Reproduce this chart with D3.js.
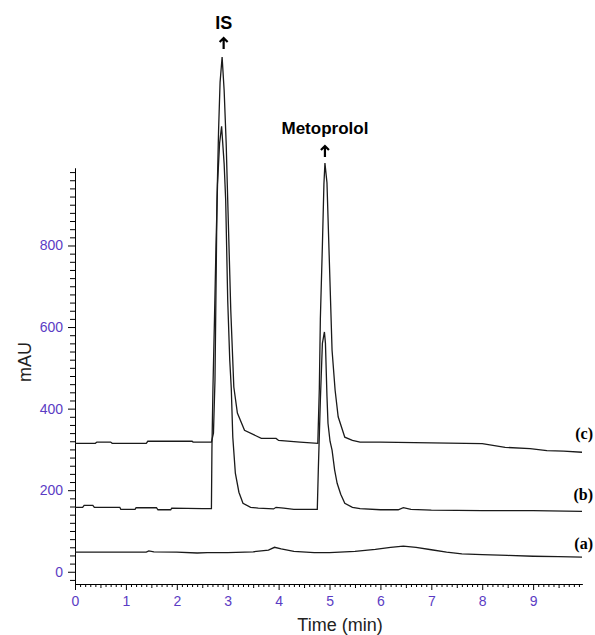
<!DOCTYPE html>
<html lang="en">
<head>
<meta charset="UTF-8">
<title>Chromatogram</title>
<script src="https://d3js.org/d3.v7.min.js"></script>
<style type="text/css">
    body { margin: 0; background: #fff; }
    .axis path, .axis line { stroke: #000; stroke-width: 1; }
    .axis text { font-family: "Liberation Sans", Arial, sans-serif; font-size: 14px; fill: #5b3cc4; }
    .trace { fill: none; stroke: #1a1a1a; stroke-width: 1.3; }
</style>
</head>
<body>
<script type="text/javascript">

    const width = 595;
    const height = 635;

    // (a) blank
    const timeA = [0, 0.5, 1.0, 1.4, 1.45, 1.55, 2.0, 2.4, 2.6, 3.0, 3.5, 3.8, 3.92, 4.05, 4.3, 4.7, 5.0,
        5.5, 5.9, 6.2, 6.45, 6.7, 7.0, 7.3, 7.6, 8.0, 8.5, 9.0, 9.5, 9.96];
    const valuesA = [48, 48, 48, 48, 51, 49, 48, 46, 47, 47, 49, 53, 60, 56, 50, 47, 47,
        50, 55, 60, 63, 60, 54, 48, 44, 42, 40, 38, 37, 36];

    // (b) low concentration
    const timeB = [0, 0.15, 0.18, 0.35, 0.38, 0.88, 0.9, 1.18, 1.2, 1.6, 1.63, 1.88, 1.9, 2.5, 2.68,
        2.69, 2.71, 2.74, 2.77, 2.8, 2.84, 2.88, 2.93, 2.96, 3.0, 3.04, 3.07, 3.1, 3.15, 3.22, 3.3, 3.45, 3.6,
        3.9, 3.95, 4.1, 4.3, 4.76,
        4.78, 4.82, 4.86, 4.9, 4.92, 4.95, 4.97, 5.01, 5.05, 5.1, 5.15, 5.22, 5.3, 5.45, 5.6,
        6.0, 6.35, 6.45, 6.6, 7.0, 8.0, 9.0, 9.96];
    const valuesB = [158, 158, 163, 163, 158, 158, 153, 153, 157, 157, 152, 152, 156, 155, 155,
        300, 450, 620, 800, 950, 1050, 1092, 1000, 912, 666, 519, 450, 330, 242, 195, 168, 158, 156,
        154, 158, 156, 153, 153,
        250, 420, 560, 588, 560, 430, 364, 320, 298, 250, 217, 190, 168, 158, 155,
        152, 152, 157, 153, 151, 150, 150, 148];

    // (c) high concentration
    const timeC = [0, 0.4, 0.43, 0.7, 0.73, 1.4, 1.43, 2.3, 2.32, 2.68,
        2.72, 2.75, 2.79, 2.82, 2.85, 2.89, 2.93, 2.97, 3.0, 3.06, 3.12, 3.19, 3.33, 3.66,
        3.95, 4.0, 4.42, 4.77,
        4.8, 4.82, 4.86, 4.89, 4.91, 4.95, 4.99, 5.05, 5.11, 5.17, 5.3, 5.45, 5.6,
        6.0, 7.0, 8.0, 8.45, 8.94, 9.27, 9.6, 9.96];
    const valuesC = [315, 315, 318, 318, 315, 315, 320, 320, 318, 318,
        340, 470, 912, 1080, 1200, 1262, 1180, 1050, 912, 642, 453, 389, 347, 327,
        327, 322, 318, 315,
        450, 620, 800, 950, 1002, 954, 789, 543, 445, 380, 330, 322, 318,
        318, 316, 314, 305, 302, 297, 296, 293];

    const traceNames = ["(a)", "(b)", "(c)"];
    const peakNames = ["IS", "Metoprolol"];
    const peakTimes = [2.92, 4.91];

    const xMajorTicks = [0, 1, 2, 3, 4, 5, 6, 7, 8, 9];
    const yMajorTicks = [0, 200, 400, 600, 800];

    const svg = d3.select("body")
        .append("svg")
        .attr("width", width)
        .attr("height", height);

    const xScale = d3.scaleLinear()
        .domain([0, 9.96])
        .range([75, 582]);
    const yScale = d3.scaleLinear()
        .domain([-30, 990])
        .range([584, 168]);

    // minor ticks
    const xMinor = d3.range(0, 100).map(i => i / 10);
    const yMinor = d3.range(-1, 50).map(i => i * 20);

    svg.append("g")
        .attr("class", "axis")
        .attr("transform", "translate(0,584)")
        .call(d3.axisBottom(xScale).tickValues(xMinor.filter(d => Math.round(d * 10) % 5 !== 0)).tickSize(3).tickFormat("").tickSizeOuter(0));
    svg.append("g")
        .attr("class", "axis")
        .attr("transform", "translate(0,584)")
        .call(d3.axisBottom(xScale).tickValues(xMajorTicks.map(d => d + 0.5)).tickSize(4).tickFormat("").tickSizeOuter(0));
    svg.append("g")
        .attr("class", "axis")
        .attr("transform", "translate(0,584)")
        .call(d3.axisBottom(xScale).tickValues(xMajorTicks).tickSize(6).tickPadding(6).tickFormat(d3.format("d")).tickSizeOuter(0));

    svg.append("g")
        .attr("class", "axis")
        .attr("transform", "translate(75,0)")
        .call(d3.axisLeft(yScale).tickValues(yMinor.filter(d => d % 200 !== 0)).tickSize(5).tickFormat("").tickSizeOuter(0));
    svg.append("g")
        .attr("class", "axis")
        .attr("transform", "translate(75,0)")
        .call(d3.axisLeft(yScale).tickValues(yMajorTicks).tickSize(7).tickPadding(5).tickFormat(d3.format("d")).tickSizeOuter(0));

    // traces
    const line = d3.line()
        .x(d => xScale(d[0]))
        .y(d => yScale(d[1]));

    const traces = [
        d3.zip(timeA, valuesA),
        d3.zip(timeB, valuesB),
        d3.zip(timeC, valuesC)
    ];

    svg.selectAll(".trace")
        .data(traces)
        .enter()
        .append("path")
        .attr("class", "trace")
        .attr("d", line);

    // trace labels
    const labelY = [549, 500, 439];
    svg.selectAll(".tlabel")
        .data(traceNames)
        .enter()
        .append("text")
        .attr("class", "tlabel")
        .attr("x", 593)
        .attr("y", (d, i) => labelY[i])
        .attr("text-anchor", "end")
        .attr("font-family", "'Liberation Serif', 'Times New Roman', serif")
        .attr("font-weight", "bold")
        .attr("font-size", "16px")
        .text(d => d);

    // peak labels and arrows
    const peakTextY = [29, 134];
    const arrowTop = [37, 145];
    peakNames.forEach((name, i) => {
        const x = xScale(peakTimes[i]);
        svg.append("text")
            .attr("x", x)
            .attr("y", peakTextY[i])
            .attr("text-anchor", "middle")
            .attr("font-family", "'Liberation Sans', Arial, sans-serif")
            .attr("font-weight", "bold")
            .attr("font-size", i === 0 ? "18px" : "17px")
            .text(name);
        const t = arrowTop[i];
        svg.append("path")
            .attr("d", `M${x},${t + 1}L${x},${t + 12}M${x - 4},${t + 5}L${x},${t + 1}L${x + 4},${t + 5}`)
            .attr("fill", "none")
            .attr("stroke", "#000")
            .attr("stroke-width", 2.2);
    });

    // axis labels
    svg.append("text")
        .attr("x", 340)
        .attr("y", 631)
        .attr("text-anchor", "middle")
        .attr("font-family", "'Liberation Sans', Arial, sans-serif")
        .attr("font-size", "18px")
        .attr("fill", "#222")
        .text("Time (min)");

    svg.append("text")
        .attr("transform", "rotate(-90)")
        .attr("x", -362)
        .attr("y", 31)
        .attr("text-anchor", "middle")
        .attr("font-family", "'Liberation Sans', Arial, sans-serif")
        .attr("font-size", "18px")
        .attr("fill", "#222")
        .text("mAU");

</script>
</body>
</html>
